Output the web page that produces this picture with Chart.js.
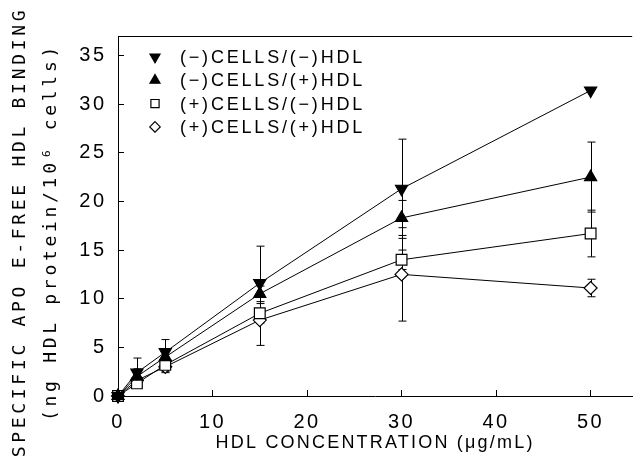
<!DOCTYPE html>
<html><head><meta charset="utf-8">
<script src="https://cdn.jsdelivr.net/npm/chart.js@4.4.1/dist/chart.umd.min.js"></script>
<style>html,body{margin:0;padding:0;background:#fff}canvas{display:block}</style>
</head><body>
<canvas id="c" width="641" height="457"></canvas>
<script>
// ---- data ----
const concentrations = [0, 2, 5, 15, 30, 50];
const seriesLabels = ['(−)CELLS/(−)HDL', '(−)CELLS/(+)HDL', '(+)CELLS/(−)HDL', '(+)CELLS/(+)HDL'];
const minusCellsMinusHdl = [0, 2.4, 4.5, 11.6, 21.3, 31.4];
const minusCellsPlusHdl  = [0, 2.0, 4.0, 10.5, 18.3, 22.5];
const plusCellsMinusHdl  = [0, 1.3, 3.2, 8.5, 14.0, 16.7];
const plusCellsPlusHdl   = [0, 1.6, 3.0, 7.8, 12.5, 11.1];
const errMinusMinus = [0, 1.5, 1.3, 3.8, 5.1, 0];
const errMinusPlus  = [0, 0.8, 0.7, 0.8, 1.8, 3.6];
const errPlusMinus  = [0, 0.4, 0.8, 1.0, 1.0, 2.4];
const errPlusPlus   = [0, 0.4, 0.5, 2.6, 4.8, 0.9];
const xTickValues = [0, 10, 20, 30, 40, 50];
const yTickValues = [0, 5, 10, 15, 20, 25, 30, 35];
const xTitle = 'HDL CONCENTRATION (μg/mL)';
const yTitleLines = ['SPECIFIC APO E-FREE HDL BINDING', '(ng HDL protein/10⁶ cells)'];

// ---- styles ----
const styles = [
  {pointStyle: 'triangle', rotation: 180, radius: 7, fill: '#000', lr: 5.8},
  {pointStyle: 'triangle', rotation: 0, radius: 7, fill: '#000', lr: 5.8},
  {pointStyle: 'rect', rotation: 0, radius: 7.6, fill: '#fff', lr: 5.8},
  {pointStyle: 'rectRot', rotation: 0, radius: 6.5, fill: '#fff', lr: 5.2}
];
const seriesValues = [minusCellsMinusHdl, minusCellsPlusHdl, plusCellsMinusHdl, plusCellsPlusHdl];
const seriesErrors = [errMinusMinus, errMinusPlus, errPlusMinus, errPlusPlus];

Chart.defaults.font.family = '"Liberation Sans", Arial, sans-serif';
Chart.defaults.color = '#000';

const datasets = seriesValues.map((vals, i) => ({
  label: seriesLabels[i],
  data: concentrations.map((x, j) => ({x: x, y: vals[j]})),
  errors: seriesErrors[i],
  borderColor: '#000',
  borderWidth: 1,
  tension: 0,
  fill: false,
  clip: false,
  pointStyle: styles[i].pointStyle,
  rotation: styles[i].rotation,
  pointRadius: styles[i].radius,
  pointHoverRadius: styles[i].radius,
  pointBackgroundColor: styles[i].fill,
  pointBorderColor: '#000',
  pointBorderWidth: 1.2
}));

function drawMarker(ctx, style, rotation, x, y, r, fill) {
  ctx.beginPath();
  if (style === 'triangle') {
    const rad0 = rotation * Math.PI / 180;
    for (let k = 0; k < 3; k++) {
      const a = rad0 + k * 2 * Math.PI / 3;
      const px = x + Math.sin(a) * r, py = y - Math.cos(a) * r;
      if (k === 0) ctx.moveTo(px, py); else ctx.lineTo(px, py);
    }
  } else if (style === 'rect') {
    const s = r * Math.SQRT1_2;
    ctx.rect(x - s, y - s, 2 * s, 2 * s);
  } else {
    ctx.moveTo(x, y - r); ctx.lineTo(x + r, y); ctx.lineTo(x, y + r); ctx.lineTo(x - r, y);
  }
  ctx.closePath();
  ctx.fillStyle = fill; ctx.fill();
  ctx.lineWidth = 1.2; ctx.strokeStyle = '#000'; ctx.stroke();
}

function patchTitle(scale, spacing, shift) {
  if (!scale || scale._patched) return;
  const orig = scale.drawTitle;
  scale.drawTitle = function () {
    const t = this.top;
    this.top = t + shift;
    this.ctx.save();
    this.ctx.letterSpacing = spacing;
    orig.call(this);
    this.ctx.restore();
    this.top = t;
  };
  scale._patched = true;
}

const helperPlugin = {
  id: 'helper',
  beforeDraw(chart) {
    chart.ctx.letterSpacing = '2.5px';
    patchTitle(chart.scales.y, '3.7px', 32);
    patchTitle(chart.scales.x, '2.2px', 0);
  },
  beforeDatasetsDraw(chart) {
    const {ctx, scales: {x, y}} = chart;
    ctx.save();
    ctx.strokeStyle = '#000';
    ctx.lineWidth = 1;
    chart.data.datasets.forEach(ds => {
      ds.data.forEach((p, j) => {
        const e = ds.errors[j];
        if (!e) return;
        const px = Math.round(x.getPixelForValue(p.x)) + 0.5;
        const top = y.getPixelForValue(p.y + e), bot = y.getPixelForValue(p.y - e);
        ctx.beginPath();
        ctx.moveTo(px, top); ctx.lineTo(px, bot);
        ctx.moveTo(px - 4, top); ctx.lineTo(px + 4, top);
        ctx.moveTo(px - 4, bot); ctx.lineTo(px + 4, bot);
        ctx.stroke();
      });
    });
    ctx.restore();
  },
  afterDraw(chart) {
    const {ctx, chartArea} = chart;
    ctx.save();
    ctx.strokeStyle = '#000'; ctx.lineWidth = 1;
    ctx.beginPath();
    ctx.moveTo(chartArea.left, Math.round(chartArea.top) + 0.5);
    ctx.lineTo(chartArea.right, Math.round(chartArea.top) + 0.5);
    ctx.stroke();
    ctx.letterSpacing = '2.8px';
    ctx.font = '18px "Liberation Sans", Arial, sans-serif';
    ctx.textBaseline = 'middle';
    ctx.textAlign = 'left';
    chart.data.datasets.forEach((ds, i) => {
      const ly = 57 + i * 23.3;
      drawMarker(ctx, styles[i].pointStyle, styles[i].rotation, 155, ly, styles[i].lr, styles[i].fill);
      ctx.fillStyle = '#000';
      ctx.fillText(ds.label, 180, ly + 1);
    });
    ctx.restore();
  }
};

new Chart(document.getElementById('c'), {
  type: 'line',
  data: {datasets: datasets},
  plugins: [helperPlugin],
  options: {
    responsive: false,
    animation: false,
    devicePixelRatio: 1,
    layout: {padding: {top: 36, right: 0, left: 0, bottom: 0}},
    plugins: {legend: {display: false}, tooltip: {enabled: false}},
    scales: {
      x: {
        type: 'linear', min: 0, max: 54.4,
        afterBuildTicks: s => { s.ticks = xTickValues.map(v => ({value: v})); },
        afterFit: s => { s.height = 61; },
        grid: {drawOnChartArea: false, drawTicks: true, tickLength: -6, color: '#000', lineWidth: 1},
        border: {display: true, color: '#000', width: 1},
        ticks: {font: {size: 20}, padding: 20, color: '#000', maxRotation: 0},
        title: {display: true, text: xTitle, font: {size: 18}, color: '#000', padding: {top: 0, bottom: 3}}
      },
      y: {
        type: 'linear', min: 0, max: 37,
        afterBuildTicks: s => { s.ticks = yTickValues.map(v => ({value: v})); },
        afterFit: s => { s.width = 118; },
        grid: {drawOnChartArea: false, drawTicks: true, tickLength: -6, color: '#000', lineWidth: 1},
        border: {display: true, color: '#000', width: 1},
        ticks: {font: {size: 20}, padding: 17.5, color: '#000'},
        title: {display: true, text: yTitleLines, font: {size: 18, family: '"DejaVu Sans Mono", monospace', lineHeight: 1.722}, color: '#000', padding: {top: 5, bottom: 0}}
      }
    }
  }
});
</script>
</body></html>
